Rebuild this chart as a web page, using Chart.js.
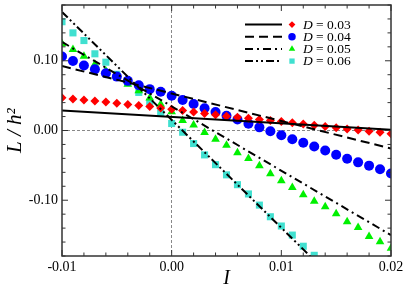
<!DOCTYPE html>
<html>
<head>
<meta charset="utf-8">
<script src="https://cdn.jsdelivr.net/npm/chart.js@4.4.1/dist/chart.umd.min.js"></script>
<style>
  html, body { margin: 0; padding: 0; background: #fff; }
  #wrap { width: 405px; height: 289px; }
</style>
</head>
<body>
<div id="wrap"><canvas id="chart"></canvas></div>
<script>
// ---- data ----
const iVals = [-0.010, -0.009, -0.008, -0.007, -0.006, -0.005, -0.004, -0.003, -0.002, -0.001,
                0.000,  0.001,  0.002,  0.003,  0.004,  0.005,  0.006,  0.007,  0.008,  0.009,
                0.010,  0.011,  0.012,  0.013,  0.014,  0.015,  0.016,  0.017,  0.018,  0.019, 0.020];
const dLabels = ['0.03', '0.04', '0.05', '0.06'];

// symbols
const simD03 = [0.0470, 0.0452, 0.0437, 0.0423, 0.0409, 0.0390, 0.0372, 0.0357, 0.0343, 0.0323,
                0.0305, 0.0286, 0.0266, 0.0245, 0.0225, 0.0206, 0.0190, 0.0175, 0.0159, 0.0145,
                0.0130, 0.0111, 0.0092, 0.0074, 0.0056, 0.0040, 0.0022, 0.0007, -0.0011, -0.0026, -0.0048];
const simD04 = [0.1061, 0.0996, 0.0933, 0.0877, 0.0820, 0.0773, 0.0712, 0.0650, 0.0593, 0.0556,
                0.0499, 0.0437, 0.0380, 0.0319, 0.0266, 0.0210, 0.0157, 0.0097, 0.0045, -0.0011,
                -0.0068, -0.0125, -0.0175, -0.0230, -0.0287, -0.0347, -0.0405, -0.0457, -0.0504, -0.0556, -0.0617];
const simD05 = [0.1245, 0.1160, 0.1065, 0.0950, 0.0853, 0.0773, 0.0664, 0.0570, 0.0465, 0.0375,
                0.0270, 0.0145, 0.0080, -0.0030, -0.0125, -0.0210, -0.0320, -0.0400, -0.0504, -0.0620,
                -0.0720, -0.0816, -0.0920, -0.1014, -0.1095, -0.1194, -0.1310, -0.1390, -0.1520, -0.1596, -0.1690];
const simD06 = [0.1560, 0.1400, 0.1290, 0.1100, 0.0980, 0.0806, 0.0688, 0.0546, 0.0405, 0.0255,
                0.0100, -0.0025, -0.0187, -0.0350, -0.0490, -0.0636, -0.0777, -0.0910, -0.1070, -0.1237,
                -0.1370, -0.1500, -0.1660, -0.1790];

// straight model lines (end points)
const fitI     = [-0.010, 0.020];
const fitD03   = [0.0286, 0.0010];
const fitD04   = [0.0925, -0.0258];
const fitD05   = [0.1270, -0.1500];
const fitI06   = [-0.010, 0.013];
const fitD06   = [0.1700, -0.1860];

const xTicksMajor = 0.01;
const yTicksMajor = 0.10;

// ---- styles ----
const serif = "'Liberation Serif', 'Times New Roman', serif";
const colors = ['#ff0000', '#0000ff', '#00f000', '#40e0d0'];
const shapes = ['rectRot', 'circle', 'triangle', 'rect'];
const radii  = [4.5, 5, 5, 5];
const dashes = [[], [9, 5], [8, 4, 2, 4], [8, 3, 2, 3, 2, 3]];

const toPts = (xs, ys) => ys.map((y, k) => ({ x: xs[k], y }));
const isMajor = (v, step) => Math.abs(Math.round(v / step) - v / step) < 1e-6;

const sims = [simD03, simD04, simD05, simD06];
const fits = [[fitI, fitD03], [fitI, fitD04], [fitI, fitD05], [fitI06, fitD06]];

const datasets = [];
fits.forEach((f, k) => {
  datasets.push({
    label: 'fit D = ' + dLabels[k],
    data: toPts(f[0], f[1]),
    showLine: true,
    borderColor: '#000',
    borderWidth: 2,
    borderDash: dashes[k],
    pointRadius: 0,
    order: 0
  });
});
sims.forEach((s, k) => {
  datasets.push({
    label: 'D = ' + dLabels[k],
    data: toPts(iVals, s),
    showLine: false,
    pointStyle: shapes[k],
    pointRadius: radii[k],
    pointBackgroundColor: colors[k],
    pointBorderWidth: 0,
    order: 1
  });
});

// box with inward ticks on all four sides
const framePlugin = {
  id: 'frame',
  afterDraw(chart) {
    const { ctx, chartArea: a, scales: { x, y } } = chart;
    ctx.save();
    ctx.strokeStyle = '#333';
    ctx.lineWidth = 1;
    const seg = (x1, y1, x2, y2) => { ctx.beginPath(); ctx.moveTo(x1, y1); ctx.lineTo(x2, y2); ctx.stroke(); };
    x.ticks.forEach(t => {
      const px = x.getPixelForValue(t.value);
      const len = isMajor(t.value, xTicksMajor) ? 6 : 3.5;
      seg(px, a.bottom, px, a.bottom - len);
      seg(px, a.top, px, a.top + len);
    });
    y.ticks.forEach(t => {
      const py = y.getPixelForValue(t.value);
      const len = isMajor(t.value, yTicksMajor) ? 6 : 3.5;
      seg(a.left, py, a.left + len, py);
      seg(a.right, py, a.right - len, py);
    });
    ctx.lineWidth = 1.5;
    ctx.strokeRect(a.left, a.top, a.right - a.left, a.bottom - a.top);
    ctx.restore();
  }
};

// combined line + symbol legend
const legendPlugin = {
  id: 'lineSymbolLegend',
  afterDraw(chart) {
    const { ctx } = chart;
    ctx.save();
    dLabels.forEach((d, k) => {
      const yy = 24.5 + k * 12.2;
      ctx.strokeStyle = '#000';
      ctx.lineWidth = 2;
      ctx.setLineDash(dashes[k]);
      ctx.beginPath(); ctx.moveTo(245, yy); ctx.lineTo(282, yy); ctx.stroke();
      ctx.setLineDash([]);
      ctx.fillStyle = colors[k];
      Chart.helpers.drawPoint(ctx, { pointStyle: shapes[k], radius: radii[k] * 0.75, borderWidth: 0, rotation: 0 }, 292, yy);
      ctx.fillStyle = '#000';
      ctx.textBaseline = 'middle';
      ctx.font = 'italic 13.5px ' + serif;
      ctx.fillText('D', 303, yy + 0.5);
      const w = ctx.measureText('D').width;
      ctx.font = '13.5px ' + serif;
      ctx.fillText(' = ' + d, 303 + w, yy + 0.5);
    });
    ctx.restore();
  }
};

new Chart(document.getElementById('chart'), {
  type: 'scatter',
  data: { datasets },
  plugins: [framePlugin, legendPlugin],
  options: {
    responsive: true,
    maintainAspectRatio: false,
    animation: false,
    layout: { padding: { top: 1, right: 14, left: 0, bottom: 0 } },
    plugins: { legend: { display: false }, tooltip: { enabled: false } },
    scales: {
      x: {
        type: 'linear',
        min: -0.01, max: 0.02,
        afterFit: s => { s.height = 33; s.paddingLeft = 0; s.paddingRight = 0; },
        grid: {
          drawTicks: false,
          lineWidth: 1,
          color: c => Math.abs(c.tick.value) < 1e-9 ? '#888' : 'rgba(0,0,0,0)'
        },
        border: { display: false, dash: [3, 2] },
        ticks: {
          stepSize: 0.002, autoSkip: false, maxRotation: 0, padding: 3,
          color: '#000', font: { family: serif, size: 14 },
          callback: v => Math.abs(v) < 1e-9 ? '0.00' : (isMajor(v, xTicksMajor) ? v.toFixed(2) : '')
        },
        title: {
          display: true, text: 'I', color: '#000',
          font: { family: serif, size: 20, style: 'italic', lineHeight: 1 },
          padding: { top: 0, bottom: 0 }
        }
      },
      y: {
        type: 'linear',
        min: -0.18, max: 0.18,
        afterFit: s => { s.width = 62; s.paddingTop = 0; s.paddingBottom = 0; },
        grid: {
          drawTicks: false,
          lineWidth: 1,
          color: c => Math.abs(c.tick.value) < 1e-9 ? '#888' : 'rgba(0,0,0,0)'
        },
        border: { display: false, dash: [3, 2] },
        ticks: {
          stepSize: 0.02, autoSkip: false, padding: 4,
          color: '#000', font: { family: serif, size: 14 },
          callback: v => Math.abs(v) < 1e-9 ? '0.00' : (isMajor(v, yTicksMajor) ? v.toFixed(2) : '')
        },
        title: {
          display: true, text: 'L / h²', color: '#000',
          font: { family: serif, size: 21, style: 'italic', lineHeight: 1 },
          padding: { top: 5, bottom: 0 }
        }
      }
    }
  }
});
</script>
</body>
</html>
